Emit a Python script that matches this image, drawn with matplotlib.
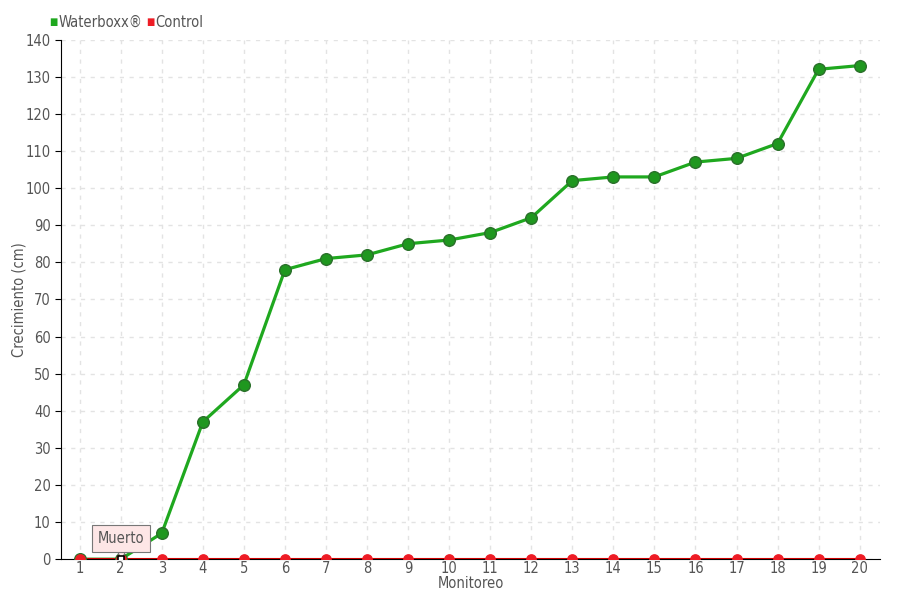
import matplotlib
matplotlib.use("Agg")
import matplotlib.pyplot as plt
from matplotlib.transforms import offset_copy

monitoreo = list(range(1, 21))
waterboxx = [0, 0, 7, 37, 47, 78, 81, 82, 85, 86, 88, 92, 102, 103, 103, 107, 108, 112, 132, 133]
control = [0] * 20
muerto_idx = 1  # monitoreo 2

plt.rcParams['font.family'] = ['DejaVu Sans']
plt.rcParams['font.stretch'] = 'condensed'

verde = '#1fa81f'
rojo = '#ee1c25'
gris_txt = '#555555'
rosa = '#fde6e6'

fig = plt.figure(figsize=(9, 6), dpi=100)
ax = fig.add_axes([0.068, 0.068, 0.91, 0.866])

# lineas
ax.plot(monitoreo, waterboxx, color=verde, linewidth=2.3, zorder=3)
ax.plot(monitoreo, control, color='#cc0000', linewidth=1.5, zorder=4)
ax.scatter(monitoreo, waterboxx, s=70, color='#1f971f', edgecolor='#2a702a', linewidth=1, zorder=5)
ax.scatter(monitoreo, control, s=45, color=rojo, edgecolor=rojo, zorder=6)

# marcador "Muerto" con su globo
xm, ym = monitoreo[muerto_idx], waterboxx[muerto_idx]
ax.scatter([xm], [ym], marker='s', s=22, color='white', edgecolor='black', linewidth=1.2, zorder=9)
punta = offset_copy(ax.transData, fig=fig, x=0, y=5, units='dots')
ax.scatter([xm], [ym], marker='v', s=55, color=rosa, edgecolor='#777777', linewidth=0.8,
           transform=punta, zorder=7.8)
ax.annotate('Muerto', xy=(xm, ym), xytext=(0, 15), textcoords='offset points',
            ha='center', va='center', fontsize=10.5, color=gris_txt,
            bbox=dict(boxstyle='square,pad=0.4', fc=rosa, ec='#777777', lw=0.8),
            zorder=8)

ax.set_xlim(0.55, 20.5)
ax.set_ylim(0, 140)
ax.set_xticks(monitoreo)
ax.set_yticks(range(0, 141, 10))
ax.tick_params(axis='x', length=0, pad=1, labelsize=10.5, labelcolor=gris_txt)
ax.tick_params(axis='y', length=4, direction='out', labelsize=10.5, labelcolor=gris_txt)

ax.grid(True, color='#e3e3e3', linestyle=(0, (3, 4)), linewidth=1)
ax.set_axisbelow(True)
for lado in ['top', 'right']:
    ax.spines[lado].set_visible(False)
ax.spines['left'].set_color('black')
ax.spines['bottom'].set_color('black')

ax.set_xlabel('Monitoreo', fontsize=10.5, color=gris_txt, labelpad=0)
ax.set_ylabel('Crecimiento (cm)', fontsize=10.5, color=gris_txt, labelpad=-1)

# leyenda
fig.text(0.055, 0.963, '■', color=verde, fontsize=7, va='center')
fig.text(0.065, 0.963, 'Waterboxx®', color=gris_txt, fontsize=10.5, va='center')
fig.text(0.162, 0.963, '■', color=rojo, fontsize=7, va='center')
fig.text(0.172, 0.963, 'Control', color=gris_txt, fontsize=10.5, va='center')

fig.savefig('out.png', dpi=100)
